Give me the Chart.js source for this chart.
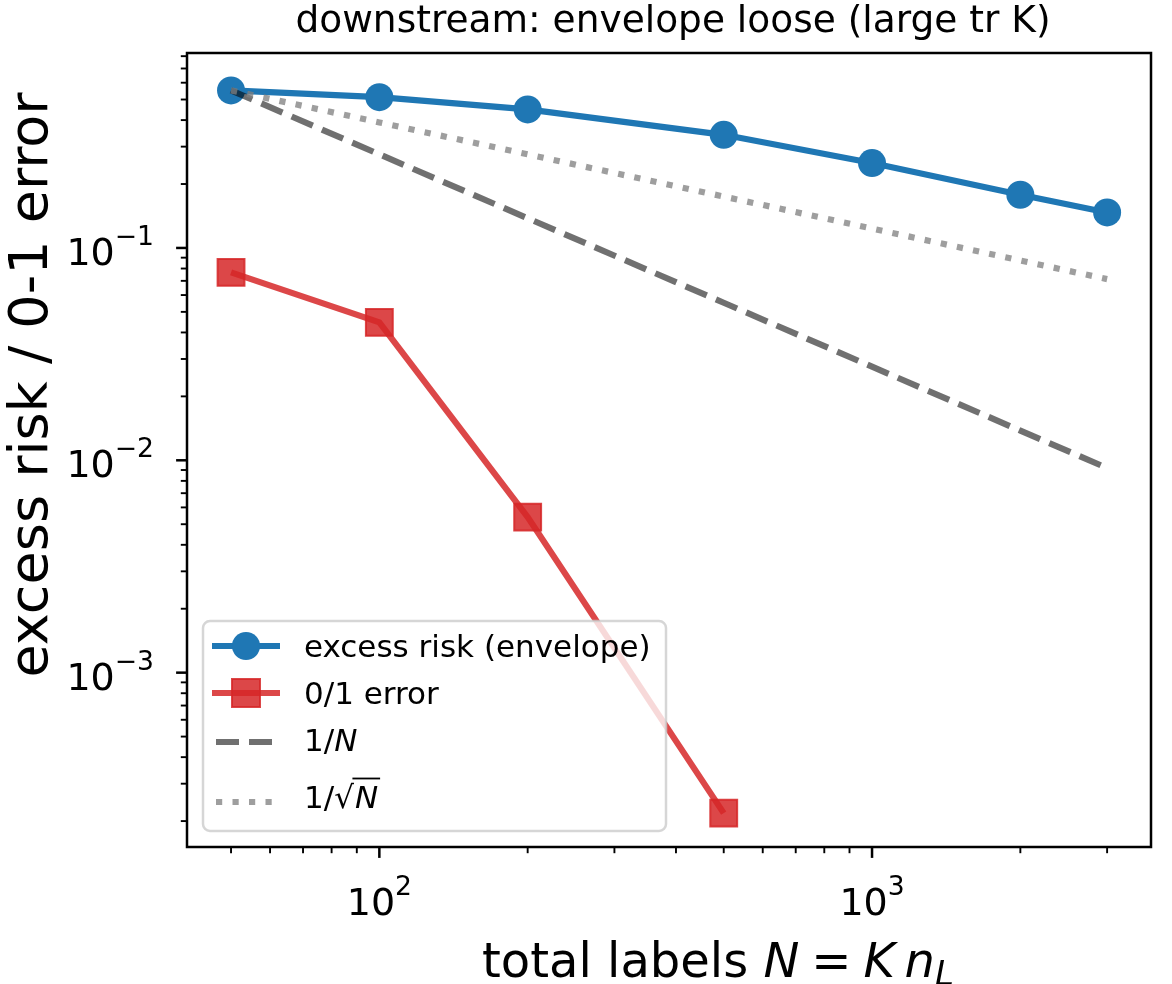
<!DOCTYPE html>
<html><head><meta charset="utf-8">
<script src="https://cdn.jsdelivr.net/npm/chart.js@4.4.0/dist/chart.umd.min.js"></script>
<style>html,body{margin:0;padding:0;background:#fff;} #wrap{width:1172px;height:984px;position:relative;}</style>
</head><body><div id="wrap"><canvas id="c" width="1172" height="984"></canvas></div>
<script>
// ---- data ----
const N_VALUES = [50, 100, 200, 500, 1000, 2000, 3000];
const EXCESS_RISK = [0.552, 0.513, 0.449, 0.341, 0.251, 0.178, 0.147];
const ZERO_ONE_N = [50, 100, 200, 500];
const ZERO_ONE_ERR = [0.0767, 0.0446, 0.0054, 0.000218];
const REF_INV_N = [0.552, 0.276, 0.138, 0.0552, 0.0276, 0.0138, 0.0092];
const REF_INV_SQRT_N = [0.552, 0.390, 0.276, 0.1746, 0.1234, 0.0873, 0.0713];
const X_MAJOR = [100, 1000];
const X_TICK_LABELS = [['10', '2'], ['10', '3']];
const Y_MAJOR = [0.1, 0.01, 0.001];
const Y_TICK_LABELS = [['10', '\u22121'], ['10', '\u22122'], ['10', '\u22123']];
const TITLE = 'downstream: envelope loose (large tr K)';
const Y_LABEL = 'excess risk / 0-1 error';
const LEGEND_LABELS = ['excess risk (envelope)', '0/1 error', '1/N', '1/\u221AN'];

const FONT = '"DejaVu Sans", sans-serif';
const BLUE = '#1f77b4';
const RED = 'rgba(214,39,40,0.85)';
const DASH_COL = 'rgba(0,0,0,0.56)';
const DOT_COL = 'rgba(128,128,128,0.76)';
const LW = 6.2;

function pts(xs, ys) { return xs.map((x, i) => ({ x: x, y: ys[i] })); }

const decorPlugin = {
  id: 'decor',
  afterDatasetsDraw(chart) {
    const ctx = chart.ctx;
    ctx.save();
    const lx = 203, ly = 621, lw = 463, lh = 210;
    ctx.beginPath();
    ctx.roundRect(lx, ly, lw, lh, 7);
    ctx.fillStyle = 'rgba(255,255,255,0.8)';
    ctx.fill();
    ctx.lineWidth = 2.5;
    ctx.strokeStyle = 'rgba(204,204,204,0.8)';
    ctx.stroke();
    const rows = [646, 693, 742, 802];
    const hx0 = 212, hx1 = 280, hcx = 246;
    ctx.lineCap = 'butt';
    ctx.strokeStyle = BLUE; ctx.lineWidth = LW;
    ctx.beginPath(); ctx.moveTo(hx0, rows[0]); ctx.lineTo(hx1, rows[0]); ctx.stroke();
    ctx.fillStyle = BLUE; ctx.beginPath(); ctx.arc(hcx, rows[0], 14, 0, Math.PI * 2); ctx.fill();
    ctx.strokeStyle = RED; ctx.lineWidth = LW;
    ctx.beginPath(); ctx.moveTo(hx0, rows[1]); ctx.lineTo(hx1, rows[1]); ctx.stroke();
    ctx.fillStyle = RED; ctx.fillRect(hcx - 14, rows[1] - 14, 28, 28);
    ctx.lineWidth = 2; ctx.strokeRect(hcx - 14, rows[1] - 14, 28, 28);
    ctx.strokeStyle = DASH_COL; ctx.lineWidth = LW;
    ctx.setLineDash([23, 10]);
    ctx.beginPath(); ctx.moveTo(216, rows[2]); ctx.lineTo(272, rows[2]); ctx.stroke();
    ctx.strokeStyle = DOT_COL;
    ctx.setLineDash([6.2, 10.3]);
    ctx.beginPath(); ctx.moveTo(216, rows[3]); ctx.lineTo(272, rows[3]); ctx.stroke();
    ctx.setLineDash([]);
    ctx.fillStyle = '#000';
    ctx.textAlign = 'left'; ctx.textBaseline = 'alphabetic';
    const tx = 304;
    const reg = '31px ' + FONT, ital = 'italic 31px ' + FONT;
    ctx.font = reg;
    ctx.fillText(LEGEND_LABELS[0], tx, 657);
    ctx.fillText(LEGEND_LABELS[1], tx, 704);
    ctx.fillText('1/', tx, 751);
    let w = ctx.measureText('1/').width;
    ctx.font = ital; ctx.fillText('N', tx + w, 751);
    ctx.font = reg;
    ctx.fillText('1/', tx, 808);
    w = ctx.measureText('1/').width;
    ctx.fillText('\u221A', tx + w, 808);
    const ws = ctx.measureText('\u221A').width;
    ctx.font = ital;
    const wn = ctx.measureText('N').width;
    ctx.fillText('N', tx + w + ws + 1, 808);
    ctx.lineWidth = 1.8; ctx.strokeStyle = '#000';
    ctx.beginPath(); ctx.moveTo(tx + w + ws - 1.5, 778.5); ctx.lineTo(tx + w + ws + wn + 3, 778.5); ctx.stroke();
    ctx.restore();
  },
  afterDraw(chart) {
    const ctx = chart.ctx;
    const xs = chart.scales.x, ys = chart.scales.y;
    const a = chart.chartArea;
    ctx.save();
    ctx.strokeStyle = '#000';
    function tickX(v, len, wid) {
      const p = xs.getPixelForValue(v);
      ctx.lineWidth = wid; ctx.beginPath(); ctx.moveTo(p, a.bottom); ctx.lineTo(p, a.bottom + len); ctx.stroke();
    }
    function tickY(v, len, wid) {
      const p = ys.getPixelForValue(v);
      ctx.lineWidth = wid; ctx.beginPath(); ctx.moveTo(a.left, p); ctx.lineTo(a.left - len, p); ctx.stroke();
    }
    for (let e = 1; e <= 3; e++) for (let m = 2; m <= 9; m++) {
      const v = m * Math.pow(10, e);
      if (v >= xs.min && v <= xs.max) tickX(v, 6.2, 1.9);
    }
    for (let e = -4; e <= -1; e++) for (let m = 2; m <= 9; m++) {
      const v = m * Math.pow(10, e);
      if (v >= ys.min && v <= ys.max) tickY(v, 6.2, 1.9);
    }
    X_MAJOR.forEach(v => tickX(v, 10.9, 2.5));
    Y_MAJOR.forEach(v => tickY(v, 10.9, 2.5));
    ctx.lineWidth = 2.5;
    ctx.strokeRect(a.left, a.top, a.right - a.left, a.bottom - a.top);
    ctx.fillStyle = '#000';
    ctx.textBaseline = 'alphabetic'; ctx.textAlign = 'left';
    const bF = '38px ' + FONT, sF = '26.6px ' + FONT;
    function pow(base, ex, x, y, align) {
      ctx.font = bF; const wb = ctx.measureText(base).width;
      ctx.font = sF; const we = ctx.measureText(ex).width;
      const tot = wb + we;
      const s = align === 'center' ? x - tot / 2 : x - tot;
      ctx.font = bF; ctx.fillText(base, s, y);
      ctx.font = sF; ctx.fillText(ex, s + wb, y - 20);
    }
    X_MAJOR.forEach((v, i) => pow(X_TICK_LABELS[i][0], X_TICK_LABELS[i][1], xs.getPixelForValue(v), 915, 'center'));
    Y_MAJOR.forEach((v, i) => pow(Y_TICK_LABELS[i][0], Y_TICK_LABELS[i][1], 154, ys.getPixelForValue(v) + 17, 'right'));
    ctx.font = '37.5px ' + FONT; ctx.textAlign = 'center';
    ctx.fillText(TITLE, (a.left + a.right) / 2 + 4, 32);
    ctx.save();
    ctx.translate(47, 385);
    ctx.rotate(-Math.PI / 2);
    ctx.font = '54px ' + FONT; ctx.textAlign = 'center';
    ctx.fillText(Y_LABEL, 0, 0);
    ctx.restore();
    const segs = [
      ['total labels ', '48px ' + FONT, 0],
      ['N', 'italic 48px ' + FONT, 0],
      ['\u2005=\u2005', '48px ' + FONT, 0],
      ['K', 'italic 48px ' + FONT, 0],
      ['\u2009', '48px ' + FONT, 0],
      ['n', 'italic 48px ' + FONT, 0],
      ['L', 'italic 34px ' + FONT, 8]
    ];
    let tot = 0;
    ctx.textAlign = 'left';
    segs.forEach(s => { ctx.font = s[1]; s.push(ctx.measureText(s[0]).width); tot += s[3]; });
    let cx = 718 - tot / 2;
    const by = 977;
    segs.forEach(s => { ctx.font = s[1]; ctx.fillText(s[0], cx, by + s[2]); cx += s[3]; });
    ctx.restore();
  }
};

new Chart(document.getElementById('c'), {
  type: 'line',
  data: {
    datasets: [
      { label: LEGEND_LABELS[0], data: pts(N_VALUES, EXCESS_RISK), borderColor: BLUE, backgroundColor: BLUE,
        borderWidth: LW, pointStyle: 'circle', pointRadius: 14, pointBorderWidth: 0, pointBackgroundColor: BLUE, order: 4 },
      { label: LEGEND_LABELS[1], data: pts(ZERO_ONE_N, ZERO_ONE_ERR), borderColor: RED, backgroundColor: RED,
        borderWidth: LW, pointStyle: 'rect', pointRadius: 19, pointBorderWidth: 2, pointBorderColor: RED, pointBackgroundColor: RED, order: 3 },
      { label: LEGEND_LABELS[2], data: pts(N_VALUES, REF_INV_N), borderColor: DASH_COL, borderWidth: LW,
        borderDash: [23, 10], borderCapStyle: 'butt', pointRadius: 0, order: 2 },
      { label: LEGEND_LABELS[3], data: pts(N_VALUES, REF_INV_SQRT_N), borderColor: DOT_COL, borderWidth: LW,
        borderDash: [6.2, 10.3], borderCapStyle: 'butt', pointRadius: 0, order: 1 }
    ]
  },
  options: {
    responsive: false, animation: false, devicePixelRatio: 1,
    layout: { padding: { left: 187, top: 53, right: 4, bottom: 137 } },
    plugins: { legend: { display: false }, tooltip: { enabled: false }, title: { display: false } },
    elements: { line: { tension: 0 } },
    scales: {
      x: { type: 'logarithmic', min: 40.7, max: 3683, display: false },
      y: { type: 'logarithmic', min: 1.51e-4, max: 0.828, display: false }
    }
  },
  plugins: [decorPlugin]
});
</script>
</body></html>
